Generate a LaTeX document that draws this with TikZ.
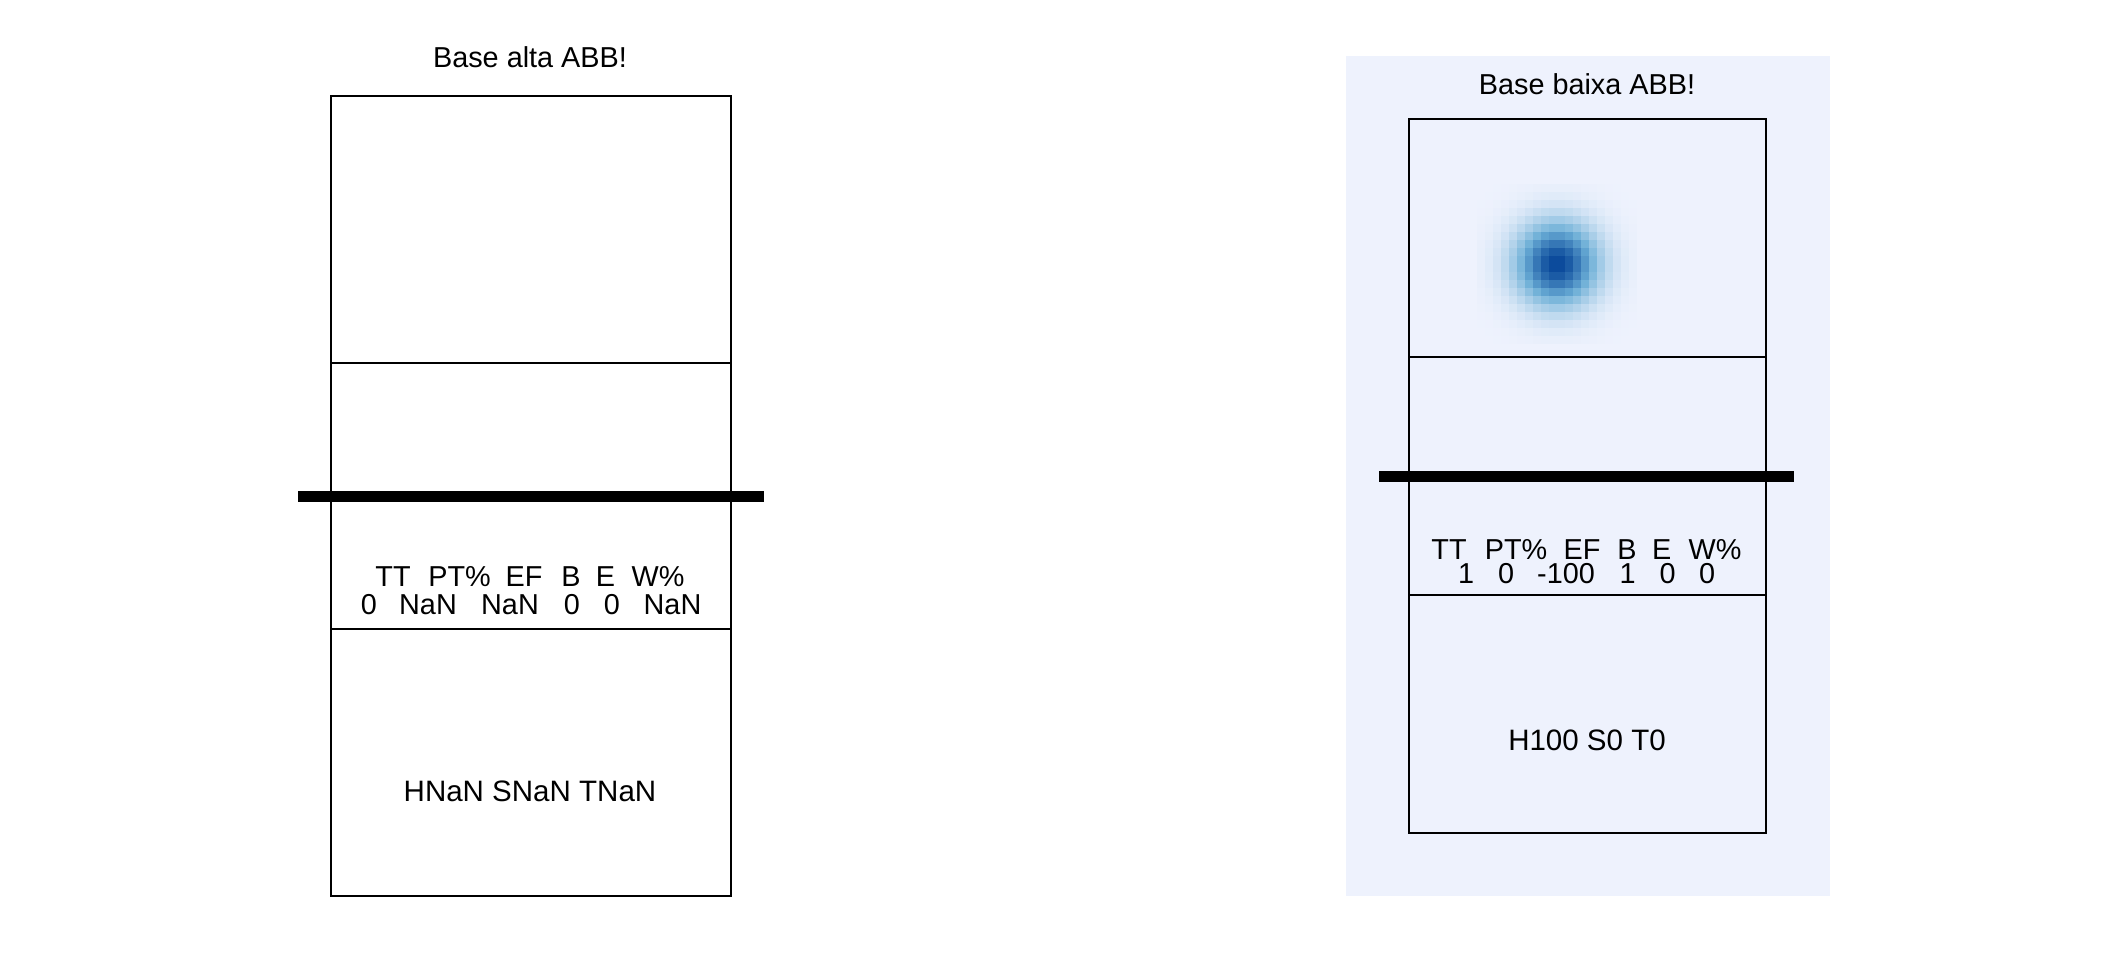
\documentclass[tikz,border=0pt]{standalone}
\usepackage{fontspec}
\setmainfont{Liberation Sans}
\usepackage{xcolor}
\usepackage{tikz}

\definecolor{panelbg}{HTML}{EEF2FD}
\definecolor{blobdark}{HTML}{08479A}
\definecolor{blobmid}{HTML}{6BAED6}

\begin{document}
\begin{tikzpicture}[x=0.1mm, y=-0.1mm,
		courtline/.style={line width=0.2mm},
		netline/.style={line width=1.1mm},
		txt/.style={font=\fontsize{8.2}{9.8}\selectfont, inner sep=0pt, anchor=base}]
		\useasboundingbox (0,0) rectangle (2112,960);

		% Left court
		\node[txt] (titleA) at (530,67.7) {Base alta ABB!};
		\draw[courtline] (331,96) rectangle (731,896);
		\draw[courtline] (331,362.7) -- (731,362.7);
		\draw[courtline] (331,629.3) -- (731,629.3);
		\draw[netline] (298,496.5) -- (764,496.5);
		\foreach \x/\t [count=\k] in {393/TT, 459.5/PT\%, 524/EF, 571/B, 605.5/E, 658/W\%}
			\node[txt] (headA\k) at (\x,586.7) {\t};
		\foreach \x/\t [count=\k] in {369/0, 428/NaN, 510/NaN, 572/0, 612/0, 672.5/NaN}
			\node[txt] (valA\k) at (\x,614) {\t};
		\node[txt, font=\fontsize{8.4}{10}\selectfont] (hstA) at (530,801.7) {HNaN SNaN TNaN};

		% Right court
		\fill[panelbg] (1346,55.5) rectangle (1830,896);
		\node[txt] (titleB) at (1587,94.3) {Base baixa ABB!};
		% Heat spot
		\foreach \i in {-10,...,9}{
			\foreach \j in {-10,...,9}{
				\pgfmathsetmacro\v{100*exp(-((\i+0.5)*(\i+0.5)+(\j+0.5)*(\j+0.5))/24.5)}
				\ifdim\v pt>50pt
					\pgfmathsetmacro\w{2*\v-100}
					\colorlet{cellc}{blobdark!\w!blobmid}
				\else
					\pgfmathsetmacro\w{2*\v}
					\colorlet{cellc}{blobmid!\w!panelbg}
				\fi
				\fill[cellc] (1556.7+8*\i,264+8*\j) rectangle ++(8,8);
			}
		}
		\draw[courtline] (1409,119) rectangle (1766,832.5);
		\draw[courtline] (1409,356.8) -- (1766,356.8);
		\draw[courtline] (1409,594.6) -- (1766,594.6);
		\draw[netline] (1379,476.5) -- (1794,476.5);
		\foreach \x/\t [count=\k] in {1449/TT, 1516/PT\%, 1582/EF, 1627/B, 1661.7/E, 1715/W\%}
			\node[txt] (headB\k) at (\x,559) {\t};
		\foreach \x/\t [count=\k] in {1466/1, 1506/0, 1566/-100, 1627.5/1, 1667.5/0, 1707/0}
			\node[txt] (valB\k) at (\x,583.3) {\t};
		\node[txt, font=\fontsize{8.4}{10}\selectfont] (hstB) at (1587,750) {H100 S0 T0};
	\end{tikzpicture}
\end{document}
